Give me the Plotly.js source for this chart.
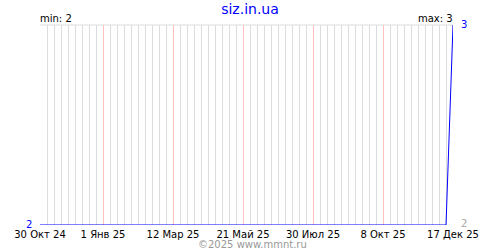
<!DOCTYPE html>
<html><head><meta charset="utf-8">
<script src="https://cdn.plot.ly/plotly-3.0.1.min.js"></script>
<style>html,body{margin:0;padding:0;background:#fff}#c{width:500px;height:250px}</style>
</head><body><div id="c"></div>
<script>
const dates = ['2024-10-30','2025-12-10','2025-12-17'];
const values = [2, 2, 3];
const tickDates = ['2024-10-30','2025-01-01','2025-03-12','2025-05-21','2025-07-30','2025-10-08','2025-12-17'];
const tickLabels = ['30 Окт 24','1 Янв 25','12 Мар 25','21 Май 25','30 Июл 25','8 Окт 25','17 Дек 25'];
const titleText = 'siz.in.ua';
const footerText = '©2025 www.mmnt.ru';

const vmin = Math.min(...values), vmax = Math.max(...values);
const F = 'DejaVu Sans, Verdana, sans-serif';
const xr = [tickDates[0], tickDates[tickDates.length-1]];

const gridHolder = {x: [], y: [], type: 'scatter', mode: 'lines', xaxis: 'x', yaxis: 'y', hoverinfo: 'skip'};
const trace = {x: dates, y: values, type: 'scatter', mode: 'lines', xaxis: 'x2', yaxis: 'y',
  line: {color: '#0000ff', width: 1}, hoverinfo: 'skip'};

const layout = {
  width: 500, height: 250,
  margin: {l: 40, r: 47, t: 25, b: 25},
  paper_bgcolor: '#fff', plot_bgcolor: '#fff',
  showlegend: false,
  title: {text: titleText, font: {family: F, size: 14, color: '#0000ff'}, x: 0.5, xanchor: 'center', y: 0.985, yanchor: 'top'},
  xaxis: {type: 'date', range: xr, tickmode: 'linear', tick0: tickDates[0], dtick: 7*86400000,
    showticklabels: false, showgrid: true, gridcolor: '#dddddd', gridwidth: 1,
    ticks: '', showline: false, zeroline: false, fixedrange: true},
  xaxis2: {type: 'date', range: xr, overlaying: 'x', anchor: 'y', side: 'bottom',
    tickmode: 'array', tickvals: tickDates, ticktext: tickLabels,
    showgrid: true, gridcolor: '#ffc0c0', gridwidth: 1,
    ticks: '', ticklen: 0, ticklabelstandoff: 2, showline: false, zeroline: false,
    tickfont: {family: F, size: 10, color: '#000'}, fixedrange: true},
  yaxis: {range: [vmin, vmax], showticklabels: false, ticks: '', showgrid: false,
    zeroline: false, showline: false, fixedrange: true},
  shapes: [{type: 'line', xref: 'paper', yref: 'paper', x0: 0, x1: 1, y0: 1, y1: 1, line: {color: '#dddddd', width: 1}, layer: 'below'}],
  annotations: [
    {text: 'min: ' + vmin, xref: 'paper', yref: 'paper', x: 0, y: 1, xanchor: 'left', yanchor: 'bottom', showarrow: false, font: {family: F, size: 10, color: '#000'}, xshift: -2, yshift: -1},
    {text: 'max: ' + vmax, xref: 'paper', yref: 'paper', x: 1, y: 1, xanchor: 'right', yanchor: 'bottom', showarrow: false, font: {family: F, size: 10, color: '#000'}, xshift: 2, yshift: -1},
    {text: String(vmax), xref: 'paper', yref: 'y', x: 1, y: vmax, xanchor: 'left', yanchor: 'middle', showarrow: false, font: {family: F, size: 10, color: '#0000ff'}, xshift: 6, yshift: 1},
    {text: String(vmin), xref: 'paper', yref: 'y', x: 1, y: vmin, xanchor: 'left', yanchor: 'middle', showarrow: false, font: {family: F, size: 10, color: '#aaaaaa'}, xshift: 6, yshift: 2},
    {text: String(vmin), xref: 'paper', yref: 'y', x: 0, y: vmin, xanchor: 'right', yanchor: 'middle', showarrow: false, font: {family: F, size: 10, color: '#0000ff'}, xshift: -6, yshift: 1},
    {text: footerText, xref: 'paper', yref: 'paper', x: 0.5, y: 0, xanchor: 'center', yanchor: 'middle', showarrow: false, font: {family: F, size: 10, color: '#999999'}, yshift: -19, xshift: 6}
  ]
};
Plotly.newPlot('c', [gridHolder, trace], layout, {staticPlot: true, displayModeBar: false});
</script></body></html>
